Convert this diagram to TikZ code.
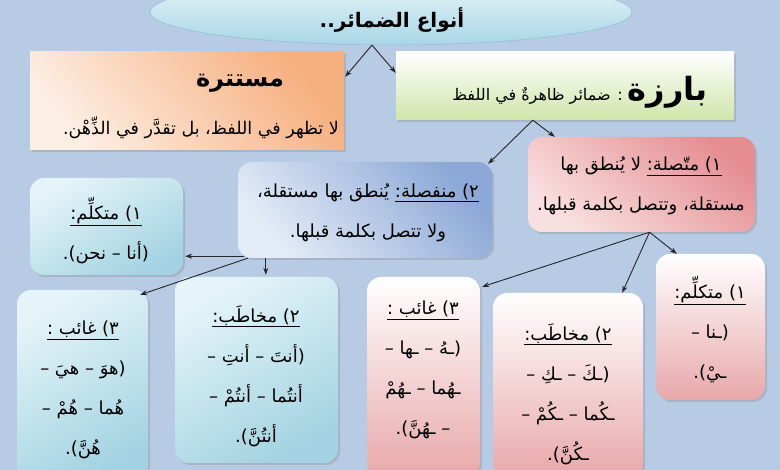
\documentclass[tikz,border=0pt]{standalone}
\usepackage{fontspec}
\usetikzlibrary{shapes.geometric,shadows,calc,arrows.meta}
\TeXXeTstate=1
\newfontfamily\arabicfont[Script=Arabic]{DejaVu Sans}
\newcommand{\rtl}[1]{\beginR #1\endR}
\newcommand{\ulr}[1]{\underline{\beginR #1\endR}}

\definecolor{fondo}{HTML}{B8CBE4}
\definecolor{elarriba}{HTML}{E8F5F9}
\definecolor{elabajo}{HTML}{A8D6E6}
\definecolor{elborde}{HTML}{8DB9D2}
\definecolor{naranja}{HTML}{F6AF7E}
\definecolor{naranjaclaro}{HTML}{FDEEE4}
\definecolor{verde}{HTML}{D0E5AA}
\definecolor{rojo}{HTML}{E58E92}
\definecolor{rojoclaro}{HTML}{F9E0E0}
\definecolor{azul}{HTML}{8CA8D6}
\definecolor{azulclaro}{HTML}{E4ECF7}
\definecolor{cian}{HTML}{A3D3E2}
\definecolor{cianclaro}{HTML}{E4F4F8}
\definecolor{rosa}{HTML}{E8A8AA}

\tikzset{
	caja/.style={rectangle, inner sep=0pt, drop shadow={opacity=0.3,shadow xshift=2pt,shadow yshift=-2pt}},
	redondo/.style={caja, rounded corners=14pt},
	flecha/.style={-{Stealth[length=7pt,width=5pt]}, line width=0.9pt, black!85},
	txt/.style={font=\arabicfont\fontsize{18}{40}\selectfont, align=center},
}

\begin{document}
\begin{tikzpicture}[x=1pt,y=-1pt]
	\useasboundingbox (0,0) rectangle (780,470);
	\fill[fondo] (0,0) rectangle (780,470);
	\clip (0,0) rectangle (780,470);
	% cajas
	\node[ellipse, minimum width=482pt, minimum height=66pt, draw=elborde, top color=elarriba, bottom color=elabajo] (anwaa) at (391,12) {};
	\node[caja, minimum width=314pt, minimum height=98pt, top color=naranja, bottom color=naranjaclaro, shading angle=-50] (mustatira) at (187,101) {};
	\node[caja, minimum width=338pt, minimum height=68pt, top color=white, bottom color=verde] (bariza) at (565,86) {};
	\node[redondo, minimum width=227pt, minimum height=95pt, top color=rojo, bottom color=rojoclaro, shading angle=-40] (muttasila) at (641.5,184.5) {};
	\node[redondo, minimum width=254pt, minimum height=96pt, top color=azul, bottom color=azulclaro, shading angle=-50] (munfasila) at (365,210) {};
	\node[redondo, minimum width=153pt, minimum height=97pt, left color=cianclaro, right color=cian, shading angle=30] (mutakallim) at (106.5,226.5) {};
	\node[redondo, minimum width=131pt, minimum height=190pt, left color=cianclaro, right color=cian, shading angle=30] (ghaib) at (82.5,385) {};
	\node[redondo, minimum width=163pt, minimum height=186pt, left color=cianclaro, right color=cian, shading angle=30] (mukhatab) at (256.5,370) {};
	\node[redondo, minimum width=113pt, minimum height=200pt, top color=white, bottom color=rosa] (ghaib-m) at (423.5,377) {};
	\node[redondo, minimum width=150pt, minimum height=184pt, top color=white, bottom color=rosa] (mukhatab-m) at (568,385) {};
	\node[redondo, minimum width=109pt, minimum height=146pt, top color=white, bottom color=rosa] (mutakallim-m) at (710.5,327) {};
	% textos
	\node[txt, font=\arabicfont\bfseries\fontsize{20}{24}\selectfont] (anwaa-t) at (392,20) {\rtl{أنواع الضمائر..}};
	\node[txt, font=\arabicfont\bfseries\fontsize{24}{28}\selectfont] (mustatira-t) at (240,83) {\rtl{مستترة}};
	\node[txt, font=\arabicfont\fontsize{17.5}{40}\selectfont] (mustatira-d) at (201,128) {\rtl{لا تظهر في اللفظ، بل تقدَّر في الذِّهْن.}};
	\node[txt, font=\arabicfont\fontsize{16}{40}\selectfont] (bariza-t) at (580,92) {\rtl{{\bfseries\fontsize{32}{36}\selectfont بارزة} : ضمائر ظاهرةٌ في اللفظ}};
	\node[txt] (muttasila-t) at (641,186) {\rtl{\ulr{١) متّصلة:} لا يُنطق بها}\\ \rtl{مستقلة، وتتصل بكلمة قبلها.}};
	\node[txt] (munfasila-t) at (368,213) {\rtl{\ulr{٢) منفصلة:} يُنطق بها مستقلة،}\\ \rtl{ولا تتصل بكلمة قبلها.}};
	\node[txt] (mutakallim-t) at (106,231) {\ulr{١) متكلِّم:}\\ \rtl{(أنا – نحن).}};
	\node[txt] (ghaib-t) at (83,390) {\ulr{٣) غائب :}\\ \rtl{(هوَ – هيَ –}\\ \rtl{هُما – هُمْ –}\\ \rtl{هُنَّ).}};
	\node[txt] (mukhatab-t) at (256,376) {\ulr{٢) مخاطَب:}\\ \rtl{(أنتَ – أنتِ –}\\ \rtl{أنتُما – أنتُمْ –}\\ \rtl{أنتُنَّ).}};
	\node[txt] (ghaib-m-t) at (423,370) {\ulr{٣) غائب :}\\ \rtl{(ـهُ – ـها –}\\ \rtl{ـهُما – ـهُمْ}\\ \rtl{– ـهُنَّ).}};
	\node[txt] (mukhatab-m-t) at (568,394) {\ulr{٢) مخاطَب:}\\ \rtl{(ـكَ – ـكِ –}\\ \rtl{ـكُما – ـكُمْ –}\\ \rtl{ـكُنَّ).}};
	\node[txt] (mutakallim-m-t) at (710,330) {\ulr{١) متكلِّم:}\\ \rtl{(ـنا –}\\ \rtl{ـيْ).}};
	% flechas
	\draw[flecha] (anwaa.240) -- ($(mustatira.north east)+(1,25)$);
	\draw[flecha] (anwaa.240) -- ($(bariza.north west)+(0,21)$);
	\draw[flecha] ($(bariza.south west)+(137,0)$) -- ($(munfasila.north east)+(-4,2)$);
	\draw[flecha] ($(bariza.south west)+(137,0)$) -- ($(muttasila.north west)+(27,0)$);
	\draw[flecha] ($(muttasila.south)+(8,0)$) -- ($(ghaib-m.north east)+(2,10)$);
	\draw[flecha] ($(muttasila.south)+(8,0)$) -- ($(mukhatab-m.north east)+(-21,0)$);
	\draw[flecha] ($(muttasila.south)+(8,0)$) -- ($(mutakallim-m.north west)+(21,0)$);
	\draw[flecha] ($(munfasila.south west)+(6,-2)$) -- ($(mutakallim.south east)+(2,-19)$);
	\draw[flecha] ($(munfasila.south west)+(10,0)$) -- ($(ghaib.north east)+(-8,5)$);
	\draw[flecha] ($(munfasila.south west)+(28,0)$) -- ($(mukhatab.north west)+(91,-2)$);
\end{tikzpicture}
\end{document}
